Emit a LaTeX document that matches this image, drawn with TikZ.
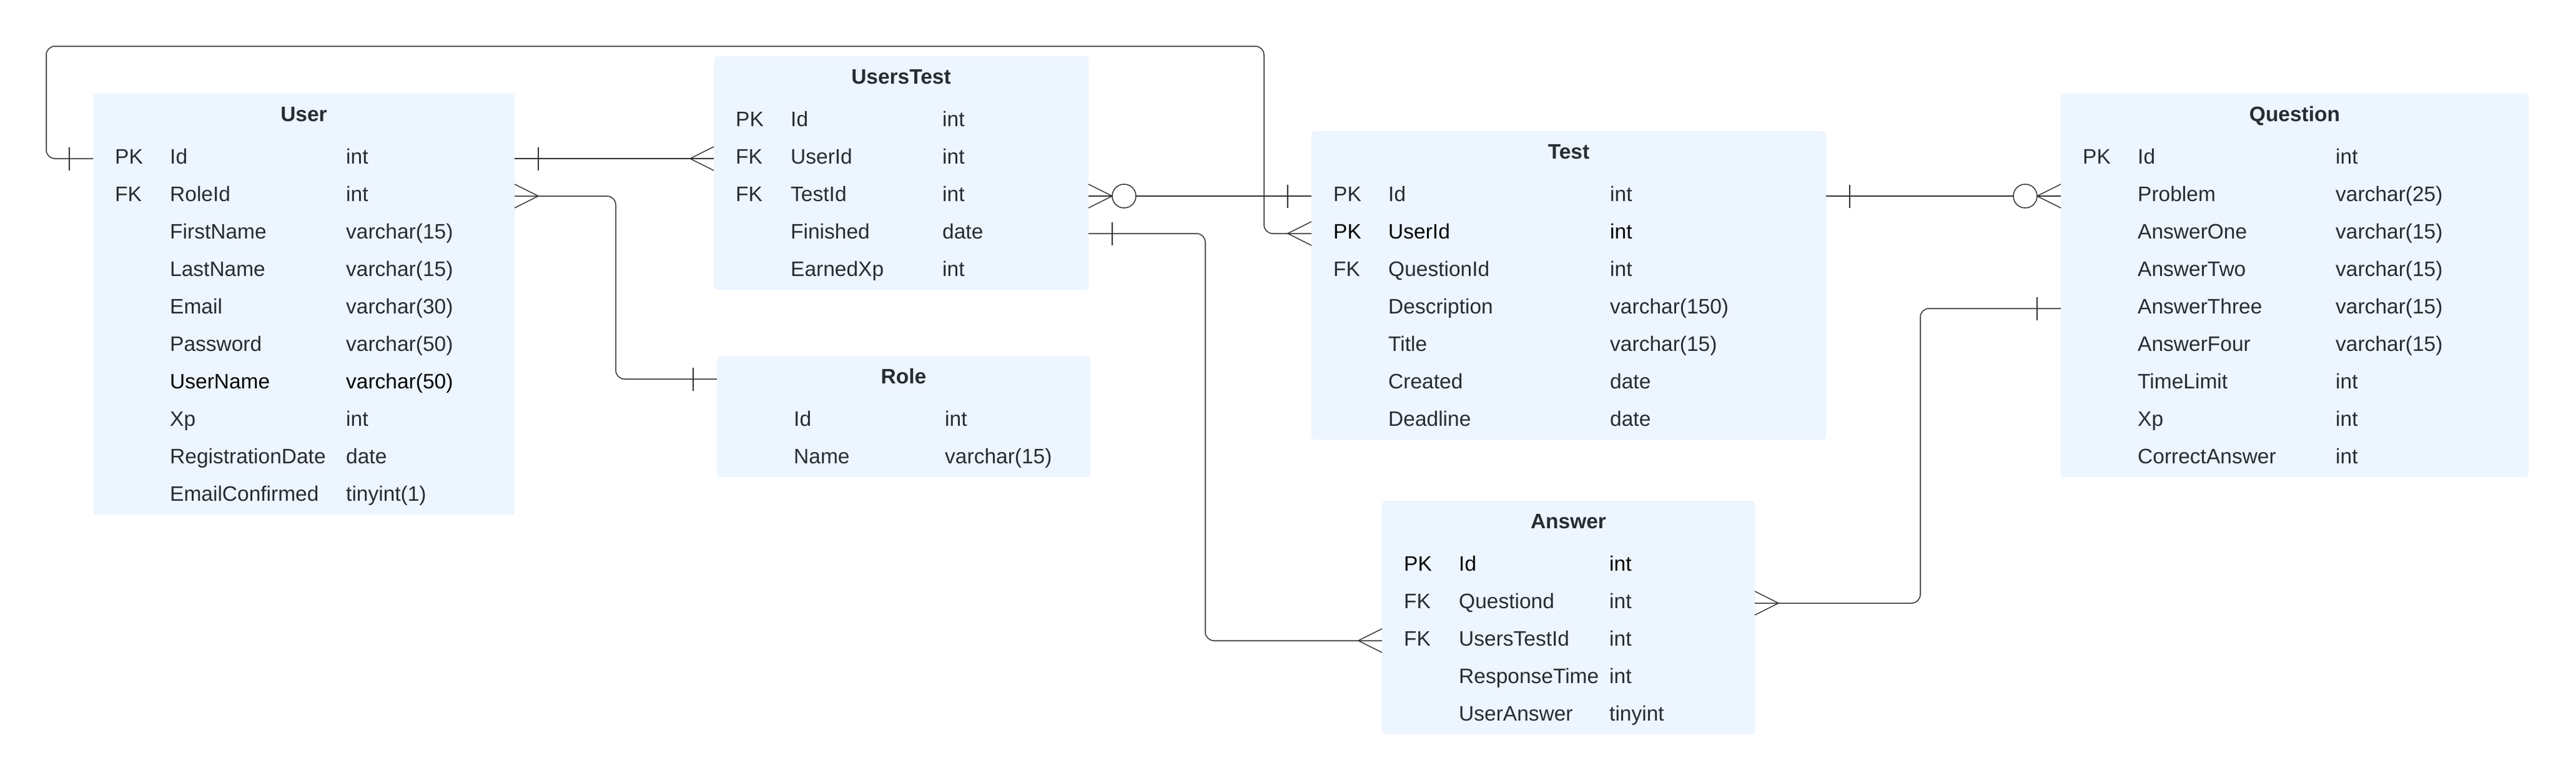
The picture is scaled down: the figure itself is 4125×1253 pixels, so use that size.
\documentclass[tikz,border=0pt]{standalone}
\usepackage{fontspec}
\setmainfont{Liberation Sans}
\definecolor{txt}{HTML}{282C33}
\definecolor{boxfill}{HTML}{EDF5FF}
\definecolor{ln}{HTML}{333333}
\tikzset{
  tbl/.style={fill=boxfill, draw=none, rounded corners=6pt, inner sep=0pt, anchor=north west},
  cell/.style={inner sep=0pt, text=txt, anchor=base west, font=\fontsize{33.5}{40}\selectfont},
  ttl/.style={inner sep=0pt, text=txt, anchor=base, font=\bfseries\fontsize{33.5}{40}\selectfont},
  rel/.style={draw=ln, line width=1.5pt, rounded corners=14pt},
  mark line/.style={draw=ln, line width=1.5pt},
}
% #1 prefix, #2 box left, #3 baseline, #4 key, #5 field, #6 type x, #7 type
\newcommand{\ERrow}[7]{%
  \node[cell] (#1k) at (#2+35,#3) {#4};
  \node[cell] (#1n) at (#2+123,#3) {#5};
  \node[cell] (#1t) at (#6,#3) {#7};}
\begin{document}
\begin{tikzpicture}[x=1pt,y=-1pt]
\fill[white] (0,0) rectangle (4125,1253);
\useasboundingbox (0,0) rectangle (4125,1253);

% ---------------- boxes ----------------
\node[tbl, minimum width=675pt, minimum height=674pt] (user) at (149,150) {};
\node[tbl, minimum width=600pt, minimum height=374pt] (ut) at (1143,90) {};
\node[tbl, minimum width=598pt, minimum height=194pt] (role) at (1148,570) {};
\node[tbl, minimum width=824pt, minimum height=494pt] (test) at (2100,210) {};
\node[tbl, minimum width=749pt, minimum height=614pt] (quest) at (3300,150) {};
\node[tbl, minimum width=597pt, minimum height=374pt] (ans) at (2213,802) {};

% ---------------- User ----------------
\node[ttl] (user-title) at (486.5,194) {User};
\ERrow{u1}{149}{262}{PK}{Id}{554}{int}
\ERrow{u2}{149}{322}{FK}{RoleId}{554}{int}
\ERrow{u3}{149}{382}{}{FirstName}{554}{varchar(15)}
\ERrow{u4}{149}{442}{}{LastName}{554}{varchar(15)}
\ERrow{u5}{149}{502}{}{Email}{554}{varchar(30)}
\ERrow{u6}{149}{562}{}{Password}{554}{varchar(50)}
\ERrow{u7}{149}{622}{}{\textcolor{black}{UserName}}{554}{\textcolor{black}{varchar(50)}}
\ERrow{u8}{149}{682}{}{Xp}{554}{int}
\ERrow{u9}{149}{742}{}{RegistrationDate}{554}{date}
\ERrow{u10}{149}{802}{}{EmailConfirmed}{554}{tinyint(1)}

% ---------------- UsersTest ----------------
\node[ttl] (ut-title) at (1443,134) {UsersTest};
\ERrow{ut1}{1143}{202}{PK}{Id}{1509}{int}
\ERrow{ut2}{1143}{262}{FK}{UserId}{1509}{int}
\ERrow{ut3}{1143}{322}{FK}{TestId}{1509}{int}
\ERrow{ut4}{1143}{382}{}{Finished}{1509}{date}
\ERrow{ut5}{1143}{442}{}{EarnedXp}{1509}{int}

% ---------------- Role ----------------
\node[ttl] (role-title) at (1447,614) {Role};
\ERrow{r1}{1148}{682}{}{Id}{1513}{int}
\ERrow{r2}{1148}{742}{}{Name}{1513}{varchar(15)}

% ---------------- Test ----------------
\node[ttl] (test-title) at (2512,254) {Test};
\ERrow{t1}{2100}{322}{PK}{Id}{2578}{int}
\ERrow{t2}{2100}{382}{\textcolor{black}{PK}}{\textcolor{black}{UserId}}{2578}{\textcolor{black}{int}}
\ERrow{t3}{2100}{442}{FK}{QuestionId}{2578}{int}
\ERrow{t4}{2100}{502}{}{Description}{2578}{varchar(150)}
\ERrow{t5}{2100}{562}{}{Title}{2578}{varchar(15)}
\ERrow{t6}{2100}{622}{}{Created}{2578}{date}
\ERrow{t7}{2100}{682}{}{Deadline}{2578}{date}

% ---------------- Question ----------------
\node[ttl] (quest-title) at (3674.5,194) {Question};
\ERrow{q1}{3300}{262}{PK}{Id}{3740}{int}
\ERrow{q2}{3300}{322}{}{Problem}{3740}{varchar(25)}
\ERrow{q3}{3300}{382}{}{AnswerOne}{3740}{varchar(15)}
\ERrow{q4}{3300}{442}{}{AnswerTwo}{3740}{varchar(15)}
\ERrow{q5}{3300}{502}{}{AnswerThree}{3740}{varchar(15)}
\ERrow{q6}{3300}{562}{}{AnswerFour}{3740}{varchar(15)}
\ERrow{q7}{3300}{622}{}{TimeLimit}{3740}{int}
\ERrow{q8}{3300}{682}{}{Xp}{3740}{int}
\ERrow{q9}{3300}{742}{}{CorrectAnswer}{3740}{int}

% ---------------- Answer ----------------
\node[ttl] (ans-title) at (2511.5,846) {Answer};
\ERrow{a1}{2213}{914}{\textcolor{black}{PK}}{\textcolor{black}{Id}}{2577}{\textcolor{black}{int}}
\ERrow{a2}{2213}{974}{FK}{Questiond}{2577}{int}
\ERrow{a3}{2213}{1034}{FK}{UsersTestId}{2577}{int}
\ERrow{a4}{2213}{1094}{}{ResponseTime}{2577}{int}
\ERrow{a5}{2213}{1154}{}{UserAnswer}{2577}{tinyint}

% ---------------- connector end points ----------------
\coordinate (u-id-r) at (824,254);
\coordinate (u-id-l) at (149,254);
\coordinate (u-role-r) at (824,314);
\coordinate (ut-uid-l) at (1143,254);
\coordinate (ut-tid-r) at (1743,314);
\coordinate (ut-fin-r) at (1743,374);
\coordinate (role-l) at (1148,607);
\coordinate (t-id-l) at (2100,314);
\coordinate (t-uid-l) at (2100,374);
\coordinate (t-id-r) at (2924,314);
\coordinate (q-prob-l) at (3300,314);
\coordinate (q-a3-l) at (3300,494);
\coordinate (a-qid-r) at (2810,966);
\coordinate (a-utid-l) at (2213,1026);
\coordinate (loop-top) at (2024,74);

% ---------------- connectors ----------------
% User.Id -> UsersTest.UserId
\draw[rel] (u-id-r) -- (ut-uid-l);
\draw[mark line] (u-id-r) ++(38,-18.5) -- ++(0,37);
\draw[mark line] (ut-uid-l) ++(0,-19) -- ++(-38,19) -- ++(38,19);

% User.RoleId -> Role
\draw[rel] (u-role-r) -- ++(162,0) |- (role-l);
\draw[mark line] (u-role-r) ++(0,-19) -- ++(38,19) -- ++(-38,19);
\draw[mark line] (role-l) ++(-38,-18.5) -- ++(0,37);

% User.Id (left) -> Test.UserId
\draw[rel] (u-id-l) -- ++(-75,0) |- (loop-top) |- (t-uid-l);
\draw[mark line] (u-id-l) ++(-38,-18.5) -- ++(0,37);
\draw[mark line] (t-uid-l) ++(0,-19) -- ++(-38,19) -- ++(38,19);

% UsersTest.TestId -> Test.Id
\draw[rel] (ut-tid-r) -- (t-id-l);
\draw[mark line] (ut-tid-r) ++(0,-19) -- ++(38,19) -- ++(-38,19);
\draw[mark line, fill=white] (ut-tid-r) ++(57,0) circle (19pt);
\draw[mark line] (t-id-l) ++(-38,-18.5) -- ++(0,37);

% UsersTest.Finished -> Answer.UsersTestId
\draw[rel] (ut-fin-r) -- ++(187,0) |- (a-utid-l);
\draw[mark line] (ut-fin-r) ++(38,-18.5) -- ++(0,37);
\draw[mark line] (a-utid-l) ++(0,-19) -- ++(-38,19) -- ++(38,19);

% Test.Id -> Question.Problem
\draw[rel] (t-id-r) -- (q-prob-l);
\draw[mark line] (t-id-r) ++(38,-18.5) -- ++(0,37);
\draw[mark line] (q-prob-l) ++(0,-19) -- ++(-38,19) -- ++(38,19);
\draw[mark line, fill=white] (q-prob-l) ++(-57,0) circle (19pt);

% Answer.Questiond -> Question.AnswerThree
\draw[rel] (a-qid-r) -- ++(265,0) |- (q-a3-l);
\draw[mark line] (a-qid-r) ++(0,-19) -- ++(38,19) -- ++(-38,19);
\draw[mark line] (q-a3-l) ++(-38,-18.5) -- ++(0,37);
\end{tikzpicture}
\end{document}
